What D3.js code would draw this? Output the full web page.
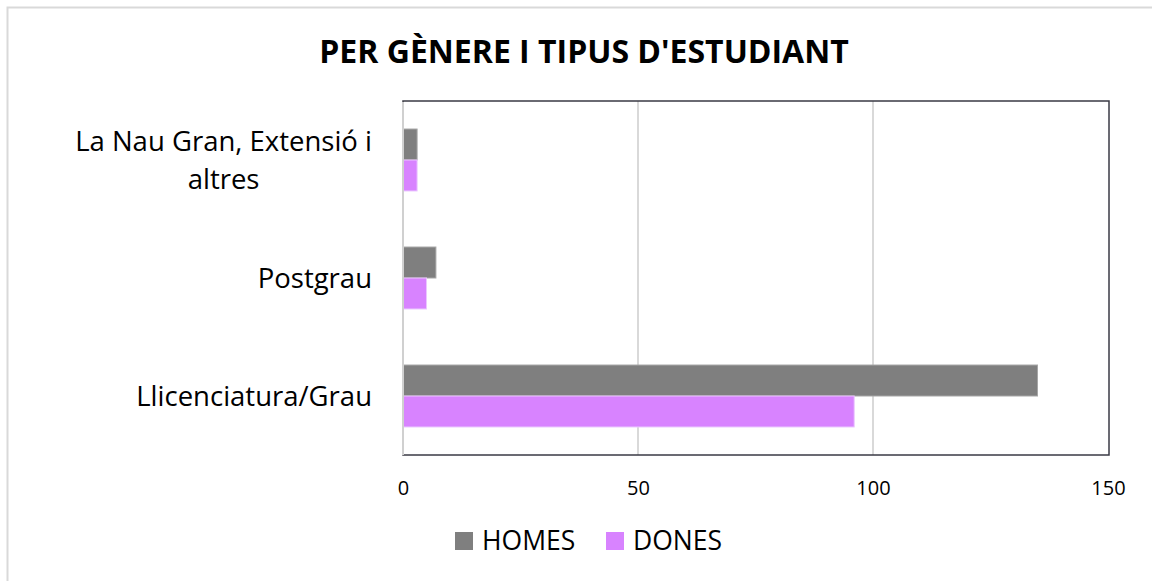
<!DOCTYPE html>
<html><head><meta charset="utf-8">
<script src="https://cdn.jsdelivr.net/npm/d3@7"></script>
<style>body{margin:0;background:#fff}svg{display:block}</style>
</head><body>
<script>
const categories = ["La Nau Gran, Extensió i altres", "Postgrau", "Llicenciatura/Grau"];
const categoryLines = [["La Nau Gran, Extensió i", "altres"], ["Postgrau"], ["Llicenciatura/Grau"]];
const seriesNames = ["HOMES", "DONES"];
const homes = [3, 7, 135];
const dones = [3, 5, 96];
const tickValues = [0, 50, 100, 150];
const title = "PER GÈNERE I TIPUS D'ESTUDIANT";
const colors = ["#7f7f7f", "#d883ff"];

const W = 1152, H = 581;
const svg = d3.select("body").append("svg").attr("width", W).attr("height", H);
const font = "'Open Sans', sans-serif";

svg.append("rect").attr("x", 7.5).attr("y", 7.5).attr("width", W).attr("height", H)
  .attr("fill", "#fff").attr("stroke", "#d9d9d9").attr("stroke-width", 2);

const m = {left: 403, right: 1108, top: 101, bottom: 455};
const x = d3.scaleLinear().domain([0, 150]).range([m.left, m.right]);
const y = d3.scaleBand().domain(categories).range([m.top, m.bottom]).paddingInner(0.475).paddingOuter(0.2375);
const ys = d3.scaleBand().domain(seriesNames).range([0, y.bandwidth()]);

svg.append("g").selectAll("line").data(tickValues.slice(1, 3)).join("line")
  .attr("x1", d => x(d)).attr("x2", d => x(d)).attr("y1", m.top).attr("y2", m.bottom)
  .attr("stroke", "#d9d9d9").attr("stroke-width", 2);

svg.append("rect").attr("x", m.left).attr("y", m.top).attr("width", m.right - m.left + 1).attr("height", m.bottom - m.top)
  .attr("fill", "none").attr("stroke", "#3a3a44").attr("stroke-width", 1.5);

const data = categories.map((c, i) => ({c, vals: [homes[i], dones[i]]}));
const g = svg.append("g");
data.forEach(d => {
  seriesNames.forEach((s, j) => {
    g.append("rect").attr("x", x(0)).attr("y", y(d.c) + ys(s))
      .attr("width", x(d.vals[j]) - x(0)).attr("height", ys.bandwidth())
      .attr("fill", colors[j]).attr("stroke", j === 0 ? "#a6a6a6" : "#ebc7ff").attr("stroke-width", 1);
  });
});

svg.append("line").attr("x1", m.left).attr("x2", m.left).attr("y1", m.top + 1).attr("y2", m.bottom)
  .attr("stroke", "#d0d0d0").attr("stroke-width", 2);

const xAxis = d3.axisBottom(x).tickValues(tickValues).tickSize(0).tickPadding(0);
const xa = svg.append("g").attr("transform", `translate(0,${m.bottom + 33})`).call(xAxis);
xa.select(".domain").remove();
xa.selectAll("text").attr("font-family", font).attr("font-size", 20).attr("fill", "#000").attr("dy", "0.35em");

const cl = svg.append("g");
data.forEach((d, i) => {
  const lines = categoryLines[i];
  const cy = y(d.c) + y.bandwidth() / 2;
  const lh = 38;
  if (lines.length > 1) {
    // multi-line: centre each line on the widest line, right edge at 372
    const tmp = cl.append("text").attr("font-family", font).attr("font-size", 27.5).text(lines[0]);
    const wMax = tmp.node().getComputedTextLength();
    tmp.remove();
    lines.forEach((ln, k) => {
      cl.append("text").attr("x", 372 - wMax / 2).attr("y", cy + (k - (lines.length - 1) / 2) * lh)
        .attr("dy", "0.35em").attr("text-anchor", "middle")
        .attr("font-family", font).attr("font-size", 27.5).attr("fill", "#000").text(ln);
    });
  } else {
    cl.append("text").attr("x", 372).attr("y", cy).attr("dy", "0.35em").attr("text-anchor", "end")
      .attr("font-family", font).attr("font-size", 27.5).attr("fill", "#000").text(lines[0]);
  }
});

svg.append("text").attr("x", 584).attr("y", 52).attr("dy", "0.35em").attr("text-anchor", "middle")
  .attr("font-family", font).attr("font-weight", "bold").attr("font-size", 32).attr("fill", "#000").text(title);

const lg = svg.append("g");
const legX = [455, 606];
seriesNames.forEach((s, j) => {
  lg.append("rect").attr("x", legX[j]).attr("y", 532).attr("width", 18).attr("height", 18).attr("fill", colors[j]);
  lg.append("text").attr("x", legX[j] + 27).attr("y", 541).attr("dy", "0.35em")
    .attr("font-family", font).attr("font-size", 26.5).attr("fill", "#000").text(s);
});
</script>
</body></html>
